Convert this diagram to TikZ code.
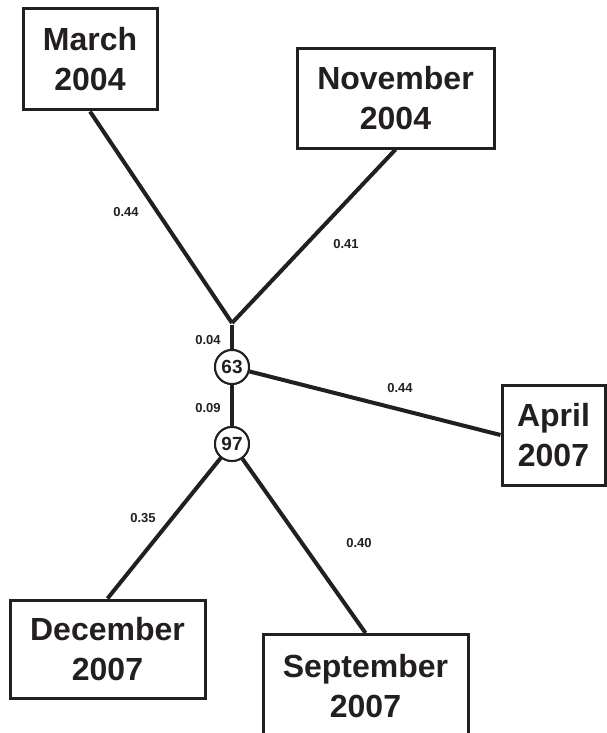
\documentclass[tikz,border=0pt]{standalone}
\usepackage{fontspec}
\setmainfont{Liberation Sans}
\definecolor{ink}{HTML}{231F20}
\begin{document}
\begin{tikzpicture}[x=1pt,y=-1pt,
  datebox/.style={draw=ink,line width=3pt,rectangle,inner sep=0pt,align=center,
    text=ink,font=\bfseries\fontsize{32}{40}\selectfont},
  branch/.style={draw=ink,line width=4pt},
  support/.style={draw=ink,line width=2pt,circle,fill=white,minimum size=34pt,inner sep=0pt,
    text=ink,font=\bfseries\fontsize{19}{19}\selectfont},
  blen/.style={text=ink,font=\bfseries\fontsize{13}{13}\selectfont,inner sep=0pt}]
\useasboundingbox (0,0) rectangle (607,733);
\fill[white] (0,0) rectangle (607,733);
% boxes
\node[datebox,minimum width=134pt,minimum height=101pt] (march) at (90,59.5) {March\\2004};
\node[datebox,minimum width=197pt,minimum height=99pt] (november) at (395.5,98.5) {November\\2004};
\node[datebox,minimum width=103pt,minimum height=100pt] (april) at (553.5,435) {April\\2007};
\node[datebox,minimum width=195pt,minimum height=98pt] (december) at (107.5,649) {December\\2007};
\node[datebox,minimum width=205pt,minimum height=104pt,anchor=north] (september) at (365.5,633) {September\\2007};
% junction and supports
\coordinate (j) at (232,323);
\node[support] (c63) at (232,367) {63};
\node[support] (c97) at (232,444) {97};
% branches
\draw[branch,line cap=butt] (march.south) -- (j);
\draw[branch,line cap=butt] (november.south) -- (j);
\draw[branch] ([yshift=-2pt]j) -- (c63);
\draw[branch] (c63) -- (c97);
\draw[branch] (c63) -- (april.west);
\draw[branch] (c97) -- (december.north);
\draw[branch] (c97) -- (september.north);
% redraw circles on top
\node[support] at (c63) {63};
\node[support] at (c97) {97};
% branch lengths
\node[blen] (l1) at (126,212) {0.44};
\node[blen] (l2) at (346,244) {0.41};
\node[blen] (l3) at (208,340) {0.04};
\node[blen] (l4) at (208,408) {0.09};
\node[blen] (l5) at (400,388) {0.44};
\node[blen] (l6) at (143,518) {0.35};
\node[blen] (l7) at (359,543) {0.40};
\end{tikzpicture}
\end{document}
